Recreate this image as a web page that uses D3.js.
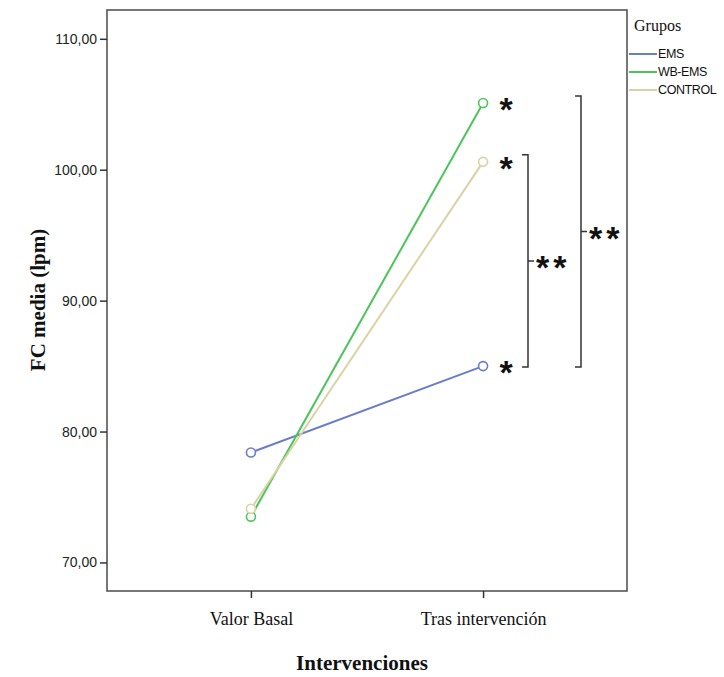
<!DOCTYPE html>
<html><head><meta charset="utf-8">
<script src="https://cdn.jsdelivr.net/npm/d3@7"></script>
<style>body{margin:0;background:#fff}svg{display:block}</style>
</head><body><svg id="c" width="724" height="677"></svg>
<script>
const categories = ["Valor Basal", "Tras intervención"];
const groups = ["EMS", "WB-EMS", "CONTROL"];
const colors = ["#6a7ec8", "#4cc45c", "#d9d3a4"];
const emsValues = [78.4, 85.0];
const wbemsValues = [73.5, 105.1];
const controlValues = [74.1, 100.6];
const yTicks = [70, 80, 90, 100, 110];
const starLabels = ["*", "*", "*"];
const bracketSmall = ["CONTROL", "EMS", "**"];
const bracketLarge = ["WB-EMS", "EMS", "**"];

const series = [emsValues, wbemsValues, controlValues];
const svg = d3.select("#c");
const L = 107, R = 627, T = 10, B = 591;
const x = d3.scalePoint().domain(categories).range([L, R]).padding(0.62);
const y = d3.scaleLinear().domain([67.82, 112.2]).range([B, T]);

// frame
svg.append("rect").attr("x", L).attr("y", T).attr("width", R - L).attr("height", B - T)
  .attr("fill", "none").attr("stroke", "#555").attr("stroke-width", 1.6);

// y axis
const ya = svg.append("g").attr("transform", `translate(${L},0)`)
  .call(d3.axisLeft(y).tickValues(yTicks).tickSize(7).tickPadding(3)
    .tickFormat(d => d3.format(".2f")(d).replace(".", ",")));
ya.select(".domain").remove();
ya.selectAll("line").attr("stroke", "#333").attr("stroke-width", 1.5);
ya.selectAll("text").attr("font-family", "Liberation Sans, Arial, sans-serif")
  .attr("font-size", 14).attr("fill", "#222");

// x axis
const xa = svg.append("g").attr("transform", `translate(0,${B})`)
  .call(d3.axisBottom(x).tickSize(7).tickPadding(14));
xa.select(".domain").remove();
xa.selectAll("line").attr("stroke", "#333").attr("stroke-width", 1.5);
xa.selectAll("text").attr("font-family", "Liberation Serif, Times New Roman, serif")
  .attr("font-size", 18).attr("fill", "#111");

// titles
svg.append("text").attr("x", 362).attr("y", 670).attr("text-anchor", "middle")
  .attr("font-family", "Liberation Serif, serif").attr("font-weight", "bold")
  .attr("font-size", 21).attr("fill", "#111").text("Intervenciones");
svg.append("text").attr("transform", "translate(38,300) rotate(-90)").attr("text-anchor", "middle")
  .attr("dy", "0.35em")
  .attr("font-family", "Liberation Serif, serif").attr("font-weight", "bold")
  .attr("font-size", 21).attr("fill", "#111").text("FC media (lpm)");

// lines & points
const line = d3.line().x((d, i) => x(categories[i])).y(d => y(d));
series.forEach((vals, gi) => {
  svg.append("path").datum(vals).attr("d", line).attr("fill", "none")
    .attr("stroke", colors[gi]).attr("stroke-width", 2);
});
series.forEach((vals, gi) => {
  svg.selectAll(null).data(vals).enter().append("circle")
    .attr("cx", (d, i) => x(categories[i])).attr("cy", d => y(d)).attr("r", 4.5)
    .attr("fill", "#fff").attr("stroke", colors[gi]).attr("stroke-width", 1.6);
});

// stars next to final points
series.forEach((vals, gi) => {
  svg.append("text").attr("x", x(categories[1]) + 23).attr("y", y(vals[1]) + 18)
    .attr("text-anchor", "middle").attr("font-family", "Liberation Sans, Arial, sans-serif")
    .attr("font-weight", "bold").attr("font-size", 34).attr("fill", "#111").text(starLabels[gi]);
});

// brackets
function bracket(spec, bx) {
  const v1 = series[groups.indexOf(spec[0])][1];
  const v2 = series[groups.indexOf(spec[1])][1];
  const y1 = y(v1) - 7, y2 = y(v2) + 1;
  const ym = (y1 + y2) / 2;
  svg.append("path")
    .attr("d", `M${bx - 6},${y1}H${bx}V${y2}H${bx - 6}M${bx},${ym}H${bx + 6}`)
    .attr("fill", "none").attr("stroke", "#333").attr("stroke-width", 1.5);
  svg.append("text").attr("x", bx + 8).attr("y", ym + 18)
    .attr("font-family", "Liberation Sans, Arial, sans-serif").attr("font-weight", "bold")
    .attr("font-size", 34).attr("letter-spacing", 4).attr("fill", "#111").text(spec[2]);
}
bracket(bracketSmall, 528);
bracket(bracketLarge, 581);

// legend
svg.append("text").attr("x", 634).attr("y", 31)
  .attr("font-family", "Liberation Serif, serif").attr("font-size", 16).attr("fill", "#111").text("Grupos");
groups.forEach((g, i) => {
  const ly = 54 + i * 18;
  svg.append("line").attr("x1", 629).attr("x2", 657).attr("y1", ly).attr("y2", ly)
    .attr("stroke", colors[i]).attr("stroke-width", 2);
  svg.append("text").attr("x", 658).attr("y", ly).attr("dy", "0.35em")
    .attr("font-family", "Liberation Sans, Arial, sans-serif").attr("font-size", 12.5)
    .attr("letter-spacing", -0.4).attr("fill", "#111").text(g);
});
</script></body></html>
